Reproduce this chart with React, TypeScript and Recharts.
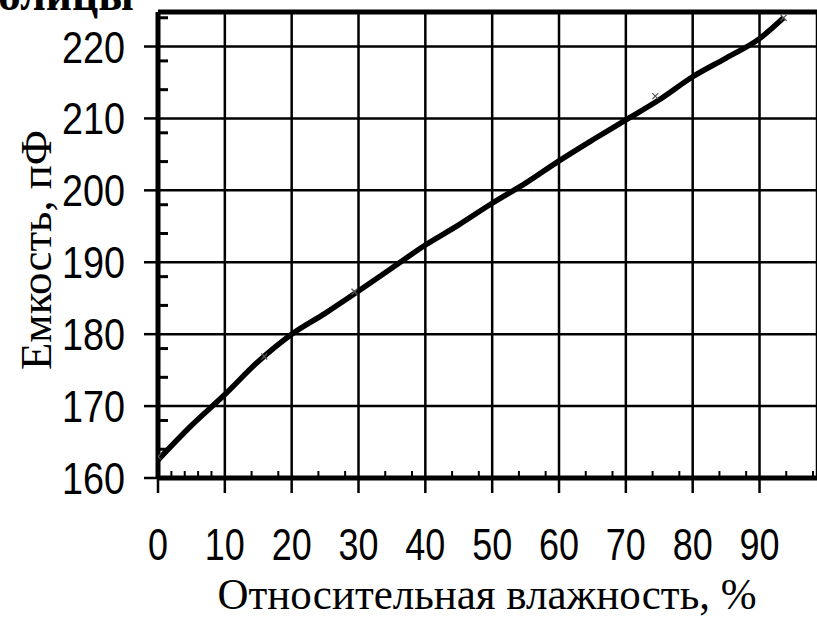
import React from 'react';
import {
  ComposedChart,
  Line,
  Scatter,
  XAxis,
  YAxis,
  CartesianGrid,
  ReferenceLine,
} from 'recharts';

// relative humidity, %
const humidity = [0, 5, 10, 15, 20, 25, 30, 35, 40, 45, 50, 55, 60, 65, 70, 75, 80, 85, 90, 93.6];
// capacitance, pF
const capacitance = [162.5, 167.3, 171.6, 176.2, 180, 182.9, 186, 189.2, 192.4, 195.2, 198.2, 201, 204.1, 207, 209.8, 212.6, 215.8, 218.4, 221.1, 224];

// measured points marked with small crosses
const markX = [0, 15.9, 29.4, 74.4, 93.6];
const markY = [163, 176.9, 185.9, 213.1, 224];

const xTicks = [0, 10, 20, 30, 40, 50, 60, 70, 80, 90];
const yTicks = [160, 170, 180, 190, 200, 210, 220];
const xMinor = [2, 4, 6, 8, 12, 14, 16, 18, 22, 24, 26, 28, 32, 34, 36, 38, 42, 44, 46, 48, 52, 54, 56, 58, 62, 64, 66, 68, 72, 74, 76, 78, 82, 84, 86, 88, 92, 94, 96, 98];
const yMinor = [162, 164, 166, 168, 172, 174, 176, 178, 182, 184, 186, 188, 192, 194, 196, 198, 202, 204, 206, 208, 212, 214, 216, 218, 222, 224];

const xTitle = 'Относительная влажность, %';
const yTitle = 'Емкость, пФ';
const cutHeading = 'олицы';

const lineData = humidity.map((h, i) => ({ h, c: capacitance[i] }));
const markData = markX.map((h, i) => ({ h, c: markY[i] }));

const sans = '"Liberation Sans", Arial, sans-serif';
const serif = '"Liberation Serif", "DejaVu Serif", serif';

// narrow digits like the original bitmap font
const XTick = (props: any) => {
  const { x, y, payload } = props;
  const s = String(payload.value);
  return (
    <text x={x} y={y} dy={32} textAnchor="middle" fontFamily={sans} fontSize={44} fill="#000"
      textLength={s.length * 20} lengthAdjust="spacingAndGlyphs">
      {s}
    </text>
  );
};

const YTick = (props: any) => {
  const { x, y, payload } = props;
  const s = String(payload.value);
  return (
    <text x={x} y={y} dy={16} textAnchor="end" fontFamily={sans} fontSize={44} fill="#000"
      textLength={s.length * 21} lengthAdjust="spacingAndGlyphs">
      {s}
    </text>
  );
};

const Cross = (props: any) => {
  const { cx, cy } = props;
  return (
    <g stroke="#555" strokeWidth={1.2}>
      <line x1={cx - 3} y1={cy - 3} x2={cx + 3} y2={cy + 3} />
      <line x1={cx - 3} y1={cy + 3} x2={cx + 3} y2={cy - 3} />
    </g>
  );
};

const NoTick = () => <g />;

export default function App() {
  return (
    <div style={{ position: 'absolute', left: 0, top: 0, width: 817, height: 617, background: '#fff', overflow: 'hidden' }}>
      <ComposedChart width={817} height={617} margin={{ top: 12, right: 0, bottom: 0, left: 0 }}>
        <CartesianGrid stroke="#000" strokeWidth={2.5} />
        <XAxis
          type="number"
          dataKey="h"
          domain={[0, 98.6]}
          ticks={xTicks}
          allowDataOverflow
          height={139}
          tickSize={15}
          tickMargin={35}
          tick={XTick}
          tickLine={{ stroke: '#000', strokeWidth: 2.5 }}
          axisLine={{ stroke: '#000', strokeWidth: 5 }}
        />
        <XAxis
          xAxisId="minor"
          type="number"
          dataKey="h"
          domain={[0, 98.6]}
          ticks={xMinor}
          allowDataOverflow
          mirror
          tickSize={7}
          tick={NoTick}
          tickLine={{ stroke: '#000', strokeWidth: 2 }}
          axisLine={false}
        />
        <YAxis
          type="number"
          domain={[160, 224.8]}
          ticks={yTicks}
          allowDataOverflow
          width={158}
          tickSize={14}
          tickMargin={19}
          tick={YTick}
          tickLine={{ stroke: '#000', strokeWidth: 2.5 }}
          axisLine={{ stroke: '#000', strokeWidth: 5 }}
        />
        <YAxis
          yAxisId="minor"
          type="number"
          domain={[160, 224.8]}
          ticks={yMinor}
          allowDataOverflow
          mirror
          tickSize={10}
          tick={NoTick}
          tickLine={{ stroke: '#000', strokeWidth: 3 }}
          axisLine={false}
        />
        <ReferenceLine y={224.8} stroke="#000" strokeWidth={5} />
        <Line
          data={lineData}
          dataKey="c"
          type="monotone"
          stroke="#000"
          strokeWidth={5.5}
          dot={false}
          isAnimationActive={false}
        />
        <Scatter data={markData} dataKey="c" shape={<Cross />} isAnimationActive={false} />
      </ComposedChart>
      <svg width={817} height={617} style={{ position: 'absolute', left: 0, top: 0, pointerEvents: 'none' }}>
        <text x={-2} y={10} fontFamily={serif} fontWeight="bold" fontSize={48} textLength={136} lengthAdjust="spacingAndGlyphs">
          {cutHeading}
        </text>
        <text
          x={487}
          y={609}
          textAnchor="middle"
          fontFamily={serif}
          fontSize={44}
          textLength={539}
          lengthAdjust="spacingAndGlyphs"
        >
          {xTitle}
        </text>
        <text
          transform="translate(51,250) rotate(-90)"
          textAnchor="middle"
          fontFamily={serif}
          fontSize={44}
          textLength={240}
          lengthAdjust="spacingAndGlyphs"
        >
          {yTitle}
        </text>
      </svg>
    </div>
  );
}
